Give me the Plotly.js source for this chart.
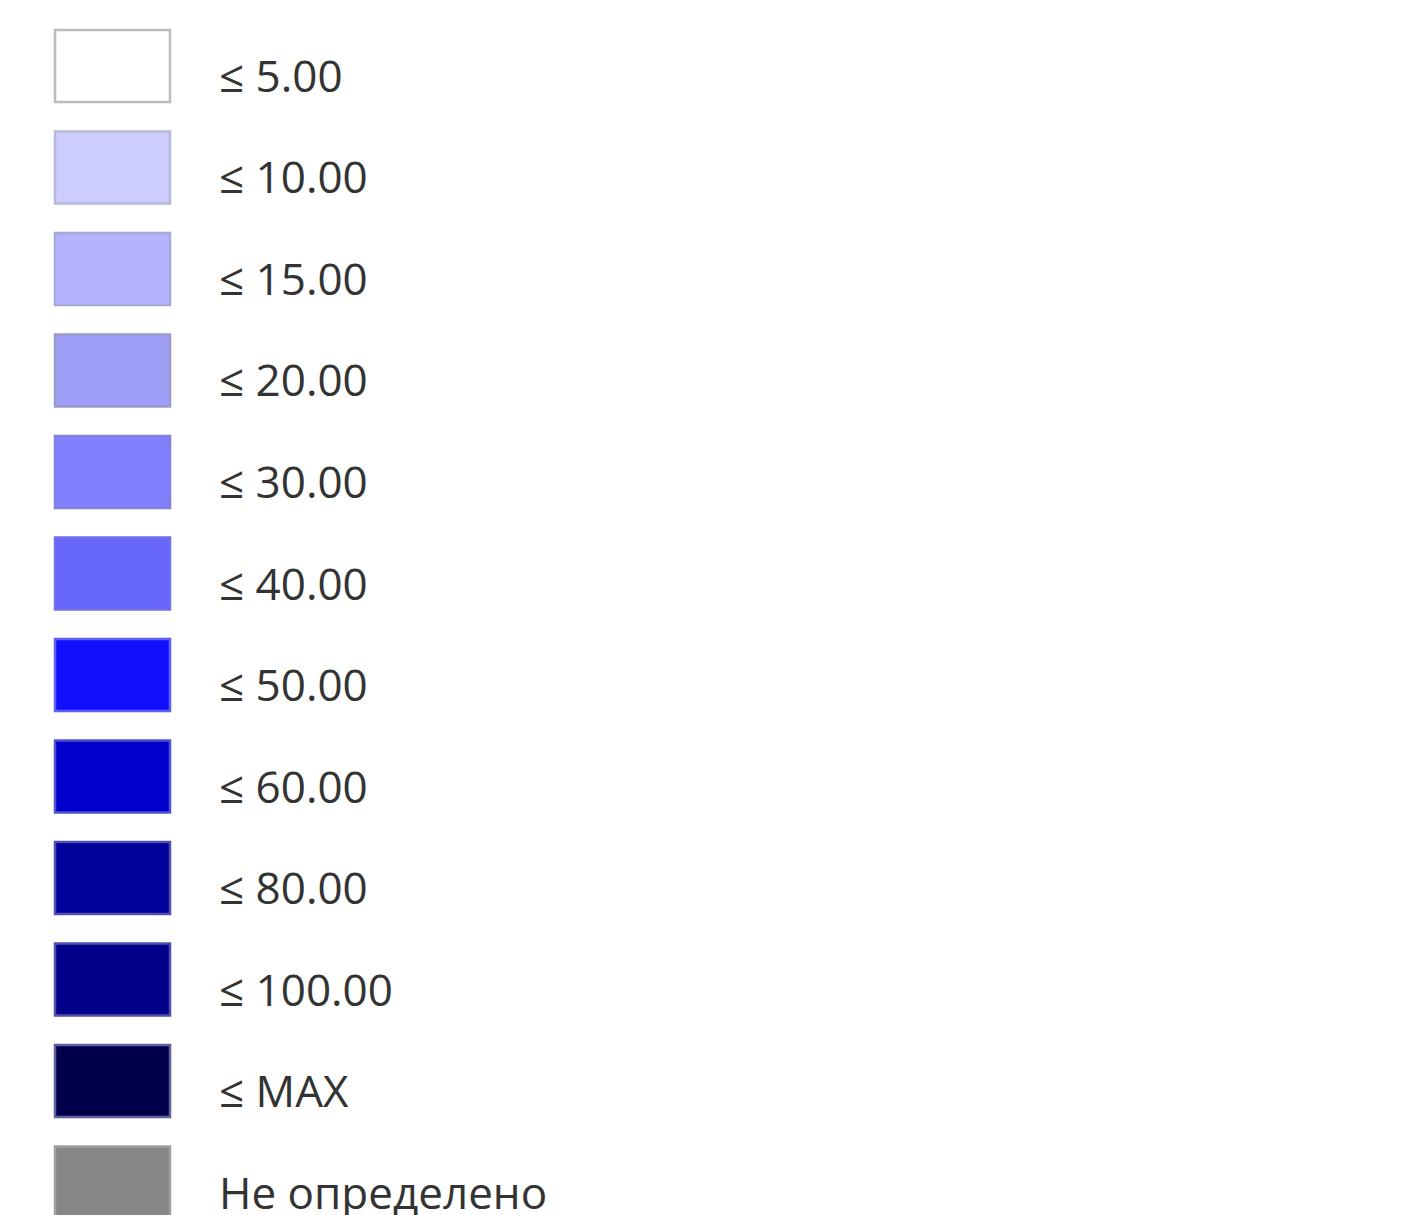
<!DOCTYPE html>
<html>
<head>
<meta charset="utf-8">
<script src="https://cdn.plot.ly/plotly-3.0.1.min.js"></script>
<style>html,body{margin:0;padding:0;background:#fff;}#chart{width:1421px;height:1215px;}</style>
</head>
<body>
<div id="chart"></div>
<script>
// Legend classes
const labels = ["≤ 5.00", "≤ 10.00", "≤ 15.00", "≤ 20.00", "≤ 30.00", "≤ 40.00",
                "≤ 50.00", "≤ 60.00", "≤ 80.00", "≤ 100.00", "≤ MAX", "Не определено"];
const colors = ["#ffffff", "#ccccff", "#b3b3ff", "#9f9ff7", "#8080ff", "#6666fa",
                "#1010ff", "#0000cc", "#00009a", "#00008a", "#00004a", "#868686"];
const borders = ["#bcbcbc", "#b8b8d8", "#a8a8d8", "#9a9ad0", "#8080e0", "#7070e8",
                 "#6060f0", "#5050d0", "#5050b0", "#5050a8", "#6060a0", "#a0a0a0"];

const swatchLeft = 55, swatchLen = 115, labelX = 217;

const trace = {
  type: "bar",
  orientation: "h",
  y: labels,
  x: labels.map(() => swatchLen),
  base: swatchLeft,
  width: 0.71,
  marker: { color: colors, line: { color: borders, width: 2.5 } },
  hoverinfo: "y"
};

const annotations = labels.map(l => ({
  x: labelX, y: l, xref: "x", yref: "y",
  xanchor: "left", yanchor: "middle", yshift: -9,
  text: l, showarrow: false,
  font: { family: "Open Sans, Noto Sans, sans-serif", size: 44, color: "#333333" }
}));

const layout = {
  width: 1421, height: 1215,
  margin: { l: 0, r: 0, t: 0, b: 0 },
  paper_bgcolor: "#ffffff", plot_bgcolor: "#ffffff",
  showlegend: false,
  xaxis: { range: [0, 1421], visible: false, fixedrange: true },
  yaxis: { type: "category", categoryorder: "array", categoryarray: labels,
           range: [11.32, -0.65], visible: false, fixedrange: true },
  annotations: annotations
};

Plotly.newPlot("chart", [trace], layout, { displayModeBar: false, staticPlot: true });
</script>
</body>
</html>
